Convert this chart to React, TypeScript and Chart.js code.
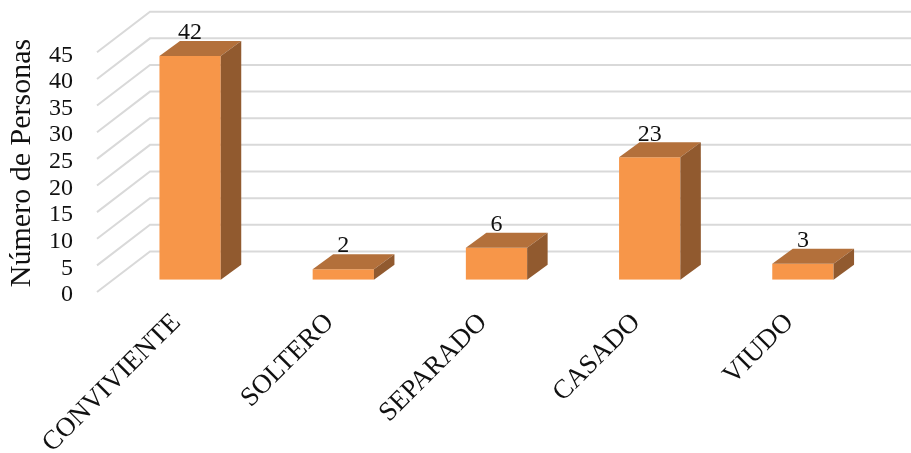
import React, { useEffect, useRef } from "react";
import { Chart, registerables } from "chart.js";

Chart.register(...registerables);

const categories = ["CONVIVIENTE", "SOLTERO", "SEPARADO", "CASADO", "VIUDO"];
const personas = [42, 2, 6, 23, 3];
const axisTitle = "Número de Personas";
const yMax = 45;
const yStep = 5;

const FONT = "'Liberation Serif', 'Times New Roman', serif";
const WALL = { dx: 53, dy: -40.6 };
const BAR_SHIFT = { dx: 16.5, dy: -12.2 };
const BAR_DEPTH = { dx: 20.5, dy: -15 };
const COLORS = { front: "#F79649", top: "#B3703B", side: "#915A2F", grid: "#D9D9D9", text: "#111111" };

const threeD = {
  id: "threeD",
  beforeDatasetsDraw(chart: any) {
    const { ctx, scales, chartArea } = chart;
    ctx.save();
    ctx.strokeStyle = COLORS.grid;
    ctx.lineWidth = 2;
    scales.y.ticks.forEach((t: any) => {
      const y = scales.y.getPixelForValue(t.value);
      ctx.beginPath();
      ctx.moveTo(chartArea.left, y);
      ctx.lineTo(chartArea.left + WALL.dx, y + WALL.dy);
      ctx.lineTo(chartArea.right + WALL.dx, y + WALL.dy);
      ctx.stroke();
    });
    ctx.restore();

    ctx.save();
    ctx.font = `30px ${FONT}`;
    ctx.fillStyle = COLORS.text;
    ctx.textAlign = "center";
    ctx.textBaseline = "middle";
    ctx.translate(22, 163);
    ctx.rotate(-Math.PI / 2);
    ctx.fillText(axisTitle, 0, 0);
    ctx.restore();

    ctx.save();
    ctx.translate(BAR_SHIFT.dx, BAR_SHIFT.dy);
  },
  afterDatasetsDraw(chart: any) {
    const { ctx } = chart;
    ctx.restore();
    const meta = chart.getDatasetMeta(0);
    ctx.save();
    meta.data.forEach((bar: any, i: number) => {
      const l = bar.x - bar.width / 2 + BAR_SHIFT.dx;
      const r = bar.x + bar.width / 2 + BAR_SHIFT.dx;
      const t = bar.y + BAR_SHIFT.dy;
      const b = bar.base + BAR_SHIFT.dy;
      ctx.fillStyle = COLORS.top;
      ctx.beginPath();
      ctx.moveTo(l, t);
      ctx.lineTo(l + BAR_DEPTH.dx, t + BAR_DEPTH.dy);
      ctx.lineTo(r + BAR_DEPTH.dx, t + BAR_DEPTH.dy);
      ctx.lineTo(r, t);
      ctx.closePath();
      ctx.fill();
      ctx.fillStyle = COLORS.side;
      ctx.beginPath();
      ctx.moveTo(r, t);
      ctx.lineTo(r + BAR_DEPTH.dx, t + BAR_DEPTH.dy);
      ctx.lineTo(r + BAR_DEPTH.dx, b + BAR_DEPTH.dy);
      ctx.lineTo(r, b);
      ctx.closePath();
      ctx.fill();
      ctx.font = `24px ${FONT}`;
      ctx.fillStyle = COLORS.text;
      ctx.textAlign = "center";
      ctx.textBaseline = "middle";
      ctx.fillText(String(personas[i]), (l + r) / 2, t - 23);
    });
    ctx.restore();
  },
};

export default function App() {
  const ref = useRef<HTMLCanvasElement>(null);
  useEffect(() => {
    const chart = new Chart(ref.current as HTMLCanvasElement, {
      type: "bar",
      data: {
        labels: categories,
        datasets: [
          {
            label: axisTitle,
            data: personas,
            backgroundColor: COLORS.front,
            categoryPercentage: 1,
            barPercentage: 0.4,
          },
        ],
      },
      options: {
        animation: false,
        responsive: false,
        devicePixelRatio: 1,
        layout: { padding: { top: 52.3, right: 48, left: 0, bottom: 0 } },
        plugins: { legend: { display: false }, tooltip: { enabled: false } },
        scales: {
          x: {
            grid: { display: false },
            border: { display: false },
            afterFit: (s: any) => {
              s.height = 161;
            },
            ticks: {
              autoSkip: false,
              minRotation: 45,
              maxRotation: 45,
              padding: 7,
              labelOffset: 3,
              color: COLORS.text,
              font: { family: FONT, size: 27 },
            },
          },
          y: {
            min: 0,
            max: yMax,
            grid: { display: false, drawTicks: false },
            border: { display: false },
            afterFit: (s: any) => {
              s.width = 97;
            },
            ticks: {
              autoSkip: false,
              stepSize: yStep,
              padding: 24,
              labelOffset: 3,
              color: COLORS.text,
              font: { family: FONT, size: 24 },
            },
          },
        },
      },
      plugins: [threeD],
    } as any);
    return () => chart.destroy();
  }, []);
  return (
    <div style={{ position: "fixed", left: 0, top: 0, width: 911, height: 453, background: "#fff" }}>
      <canvas ref={ref} width={911} height={453} style={{ display: "block" }} />
    </div>
  );
}
